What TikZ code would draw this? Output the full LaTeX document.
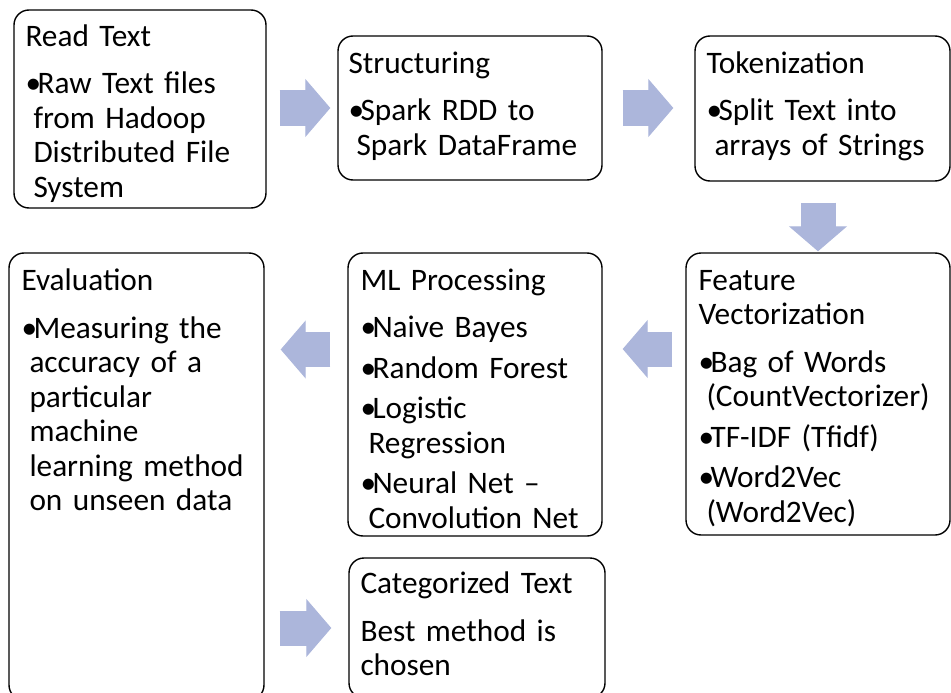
\documentclass[tikz,border=0pt]{standalone}
\usepackage{fontspec}
\setmainfont{Carlito}
\usetikzlibrary{arrows.meta}
\usetikzlibrary{positioning}
\usepackage{xcolor}

\definecolor{arrowblue}{RGB}{172,182,219}

\newcommand{\boxtitle}[1]{\noindent#1\par\vspace{13pt}}
\newcommand{\boxitem}[1]{\hangindent=8pt\hangafter=1\noindent\makebox[12pt][l]{\textbullet}#1\par\vspace{6pt}}

\begin{document}
\begin{tikzpicture}[x=1pt, y=-1pt,
  box/.style={draw, line width=1.4pt, rounded corners=15pt, inner sep=0pt},
  txt/.style={anchor=base west, align=left, inner sep=0pt, font=\fontsize{31.3pt}{34.5pt}\selectfont},
  flow/.style={draw=arrowblue, line width=35pt, -{Triangle[width=58pt, length=25pt, line width=1pt]}}]

\useasboundingbox (0,0) rectangle (951,693);
\clip (0,0) rectangle (951,693);

%boxes
\node[box, minimum width=252pt, minimum height=198pt] (read) at (140,109) {};
\node[box, minimum width=264pt, minimum height=144pt] (struct) at (470,108) {};
\node[box, minimum width=255pt, minimum height=145pt] (token) at (822.5,108.5) {};
\node[box, minimum width=264pt, minimum height=282pt] (feature) at (818,394) {};
\node[box, minimum width=254pt, minimum height=283pt] (ml) at (475,394.5) {};
\node[box, minimum width=255pt, minimum height=447pt] (eval) at (136.5,476.5) {};
\node[box, minimum width=256pt, minimum height=140pt] (categ) at (477,628) {};

%texts
\node[txt, text width=238pt] (readtxt) at ([shift={(12,37)}]read.north west)
  {\boxtitle{Read Text}\boxitem{Raw Text files\newline from Hadoop\newline Distributed File\newline System}};
\node[txt, text width=250pt] (structtxt) at ([shift={(11,38)}]struct.north west)
  {\boxtitle{Structuring}\boxitem{Spark RDD to\newline Spark DataFrame}};
\node[txt, text width=241pt] (tokentxt) at ([shift={(12,38)}]token.north west)
  {\boxtitle{Tokenization}\boxitem{Split Text into\newline arrays of Strings}};
\node[txt, text width=250pt] (featuretxt) at ([shift={(13,38)}]feature.north west)
  {\boxtitle{Feature\newline Vectorization}\boxitem{Bag of Words\newline (CountVectorizer)}\boxitem{TF-IDF (Tfidf)}\boxitem{Word2Vec\newline (Word2Vec)}};
\node[txt, text width=240pt] (mltxt) at ([shift={(13,38)}]ml.north west)
  {\boxtitle{ML Processing}\boxitem{Naive Bayes}\boxitem{Random Forest}\boxitem{Logistic\newline Regression}\boxitem{Neural Net --\newline Convolution Net}};
\node[txt, text width=241pt] (evaltxt) at ([shift={(13,38.5)}]eval.north west)
  {\boxtitle{Evaluation}\boxitem{Measuring the\newline accuracy of a\newline particular\newline machine\newline learning method\newline on unseen data}};
\node[txt, text width=242pt] (categtxt) at ([shift={(12,36.5)}]categ.north west)
  {\boxtitle{Categorized Text}\noindent Best method is\newline chosen};

%arrows
\draw[flow, shorten <=13pt, shorten >=7pt] (read.east |- struct.west) -- (struct.west);
\draw[flow, shorten <=20pt, shorten >=21pt] (struct.east) -- (struct.east -| token.west);
\draw[flow, shorten <=21pt, shorten >=1pt] (token.south -| feature.north) -- (feature.north);
\draw[flow, shorten <=13pt, shorten >=20pt] ([yshift=45pt]feature.west) -- ([yshift=45pt]feature.west -| ml.east);
\draw[flow, shorten <=17pt, shorten >=16pt] ([yshift=45pt]ml.west) -- ([yshift=45pt]ml.west -| eval.east);
\draw[flow, shorten <=15pt, shorten >=17pt] (eval.east |- categ.west) -- (categ.west);

\end{tikzpicture}
\end{document}
